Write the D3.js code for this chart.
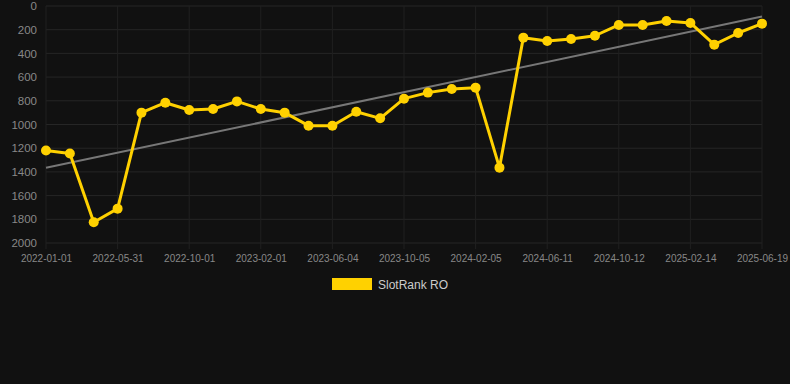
<!DOCTYPE html>
<html><head><meta charset="utf-8">
<script src="https://cdn.jsdelivr.net/npm/d3@7/dist/d3.min.js"></script>
<style>
html,body{margin:0;padding:0;background:#111111;}
svg{display:block;}
</style></head>
<body>
<svg id="c" width="790" height="384"></svg>
<script>
const dates = ["2022-01-01","2022-02-20","2022-04-11","2022-05-31","2022-07-11","2022-08-21","2022-10-01","2022-11-11","2022-12-22","2023-02-01","2023-03-13","2023-04-24","2023-06-04","2023-07-15","2023-08-25","2023-10-05","2023-11-15","2023-12-26","2024-02-05","2024-03-17","2024-04-30","2024-06-11","2024-07-22","2024-09-01","2024-10-12","2024-11-22","2025-01-03","2025-02-14","2025-03-27","2025-05-08","2025-06-19"];
const ranks = [1220,1245,1825,1710,900,816,878,869,805,869,900,1010,1010,892,948,782,731,700,689,1364,267,295,278,251,160,160,127,143,326,228,149];
const shownLabels = ["2022-01-01","2022-05-31","2022-10-01","2023-02-01","2023-06-04","2023-10-05","2024-02-05","2024-06-11","2024-10-12","2025-02-14","2025-06-19"];
const yTicks = [0,200,400,600,800,1000,1200,1400,1600,1800,2000];
const seriesName = "SlotRank RO";

const svg = d3.select("#c");
const m = {l:46, r:28, t:6, b:141};
const W = 790, H = 384;
const x = d3.scalePoint().domain(dates).range([m.l, W - m.r]);
const y = d3.scaleLinear().domain([0,2000]).range([m.t, H - m.b]);

const grid = svg.append("g");
grid.selectAll("line.h").data(yTicks).join("line")
  .attr("x1", m.l).attr("x2", W - m.r)
  .attr("y1", d=>y(d)).attr("y2", d=>y(d))
  .attr("stroke", "#262626").attr("stroke-width", 1);
grid.selectAll("line.v").data(shownLabels).join("line")
  .attr("x1", d=>x(d)).attr("x2", d=>x(d))
  .attr("y1", m.t).attr("y2", H - m.b + 6)
  .attr("stroke", "#202020").attr("stroke-width", 1);

const yAxis = d3.axisLeft(y).tickValues(yTicks).tickFormat(d3.format("d")).tickSize(0).tickPadding(0);
const ya = svg.append("g").attr("transform", `translate(37,0)`).call(yAxis);
ya.select(".domain").remove();
ya.selectAll("text").attr("fill", "#888").style("font-family", "Liberation Sans, Arial, sans-serif").style("font-size", "11.5px");

const xAxis = d3.axisBottom(x).tickValues(shownLabels).tickSize(0).tickPadding(0);
const xa = svg.append("g").attr("transform", `translate(0,${H - m.b + 12})`).call(xAxis);
xa.select(".domain").remove();
xa.selectAll("text").attr("fill", "#888").attr("dy", "0.71em").style("font-family", "Liberation Sans, Arial, sans-serif").style("font-size", "10px");

// linear regression trend
const n = ranks.length;
const idx = d3.range(n);
const mx = d3.mean(idx), my = d3.mean(ranks);
const slope = d3.sum(idx, i => (i - mx) * (ranks[i] - my)) / d3.sum(idx, i => (i - mx) ** 2);
const icpt = my - slope * mx;
svg.append("line")
  .attr("x1", x(dates[0])).attr("y1", y(icpt))
  .attr("x2", x(dates[n-1])).attr("y2", y(icpt + slope * (n-1)))
  .attr("stroke", "#777").attr("stroke-width", 2);

const data = dates.map((d,i)=>({d, v:ranks[i]}));
svg.append("path").datum(data)
  .attr("fill","none").attr("stroke","#FFD100").attr("stroke-width",3).attr("stroke-linejoin","round")
  .attr("d", d3.line().x(p=>x(p.d)).y(p=>y(p.v)));
svg.selectAll("circle.pt").data(data).join("circle")
  .attr("cx", p=>x(p.d)).attr("cy", p=>y(p.v)).attr("r", 5).attr("fill", "#FFD100");

const lg = svg.append("g");
lg.append("rect").attr("x",332).attr("y",278).attr("width",40).attr("height",12).attr("fill","#FFD100");
lg.append("text").attr("x",378).attr("y",288.5).text(seriesName)
  .attr("fill","#cccccc").style("font-family","Liberation Sans, Arial, sans-serif").style("font-size","12px");
</script>
</body></html>
